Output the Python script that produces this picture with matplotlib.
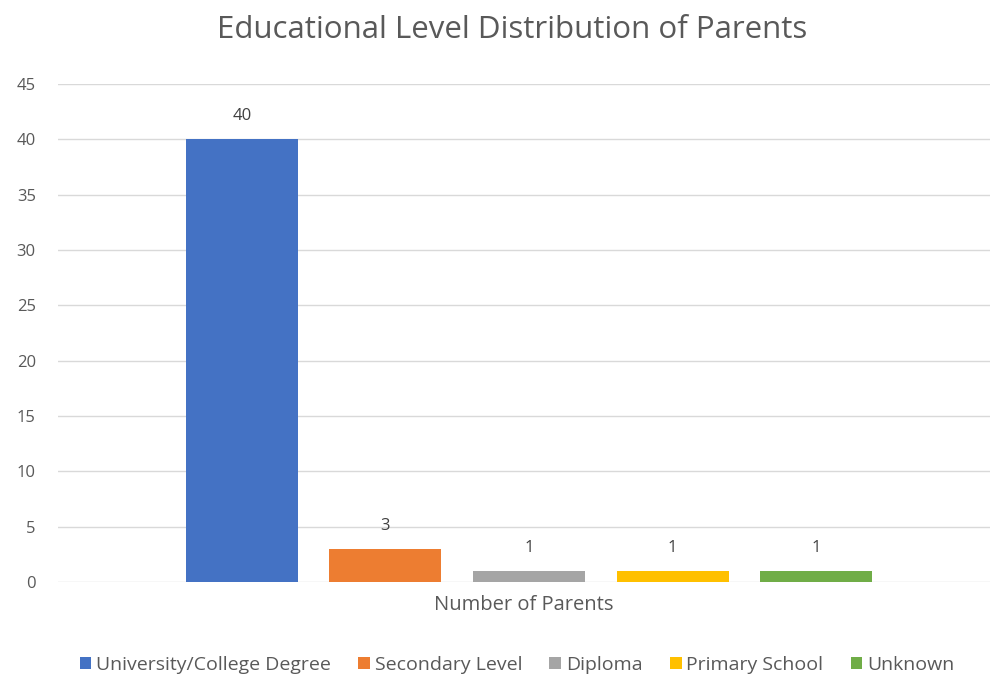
import matplotlib.pyplot as plt

categories = ["University/College Degree", "Secondary Level", "Diploma",
              "Primary School", "Unknown"]
counts = [40, 3, 1, 1, 1]
colors = ["#4472C4", "#ED7D31", "#A5A5A5", "#FFC000", "#70AD47"]
y_ticks = [0, 5, 10, 15, 20, 25, 30, 35, 40, 45]

plt.rcParams['font.family'] = ['Open Sans', 'DejaVu Sans']
text_col = "#595959"

fig = plt.figure(figsize=(9.92, 6.77), dpi=100)
ax = fig.add_axes([58 / 992, 1 - 582 / 677, (990 - 58) / 992, (582 - 84) / 677])

positions = [-2, -1, 0, 1, 2]
for pos, name, val, col in zip(positions, categories, counts, colors):
    ax.bar(pos, val, width=0.78, color=col, label=name, zorder=3)
    ax.annotate(str(val), (pos, val), xytext=(0, 11), textcoords="offset points",
                ha="center", va="bottom", fontsize=12, color="#404040")

ax.set_xlim(-3.28, 3.21)
ax.set_ylim(0, 45)
ax.set_yticks(y_ticks)
ax.set_xticks([])
ax.yaxis.grid(True, color="#D9D9D9", linewidth=1, zorder=0)
for s in ax.spines.values():
    s.set_visible(False)
ax.tick_params(axis="y", length=0, labelsize=12, labelcolor=text_col, pad=16)
ax.set_xlabel("Number of Parents", fontsize=14.5, color=text_col, labelpad=9)

fig.text(512 / 992, 1 - 30 / 677, "Educational Level Distribution of Parents",
         ha="center", va="center", fontsize=22.5, color=text_col)

fig.legend(loc="center", bbox_to_anchor=(517 / 992, 1 - 665 / 677), ncol=5,
           frameon=False, fontsize=14, handlelength=0.6, handleheight=0.6,
           handletextpad=0.25, columnspacing=1.4, labelcolor=text_col)

plt.savefig("out.png", format="png")
